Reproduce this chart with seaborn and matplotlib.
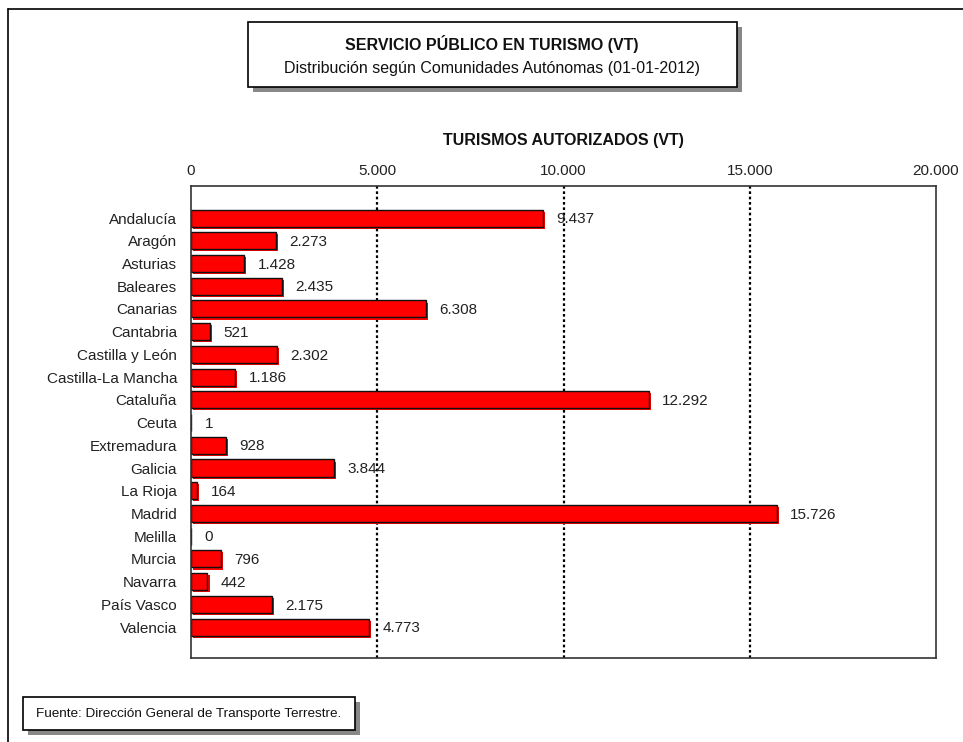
import matplotlib
matplotlib.use("Agg")
import matplotlib.pyplot as plt
import matplotlib.patheffects as pe
from matplotlib.patches import Rectangle
import seaborn as sns
import pandas as pd

regions = ["Andalucía", "Aragón", "Asturias", "Baleares", "Canarias", "Cantabria",
           "Castilla y León", "Castilla-La Mancha", "Cataluña", "Ceuta", "Extremadura",
           "Galicia", "La Rioja", "Madrid", "Melilla", "Murcia", "Navarra", "País Vasco",
           "Valencia"]
values = [9437, 2273, 1428, 2435, 6308, 521, 2302, 1186, 12292, 1, 928, 3844, 164,
          15726, 0, 796, 442, 2175, 4773]
xticks = [0, 5000, 10000, 15000, 20000]

def fmt(v):
    return f"{v:,}".replace(",", ".")

sns.set_theme(style="white")
plt.rcParams['font.family'] = ['Liberation Sans', 'DejaVu Sans']

W, H = 963, 742
fig = plt.figure(figsize=(W / 100, H / 100), dpi=100)

def fx(px):
    return px / W

def fy(py):
    return 1 - py / H

ax_l, ax_r, ax_t, ax_b = 191, 936, 186, 658
ax = fig.add_axes([fx(ax_l), fy(ax_b), (ax_r - ax_l) / W, (ax_b - ax_t) / H])

df = pd.DataFrame({"region": regions, "value": values})
sns.barplot(data=df, y="region", x="value", orient="h", color="#ff0000",
            saturation=1, edgecolor="#111111", linewidth=1.0, width=0.75, ax=ax)
for p in ax.patches:
    p.set_path_effects([pe.SimplePatchShadow(offset=(1.5, -1.5), shadow_rgbFace="#ff0000", alpha=1.0),
                        pe.Normal()])

ax.set_xlim(0, 20000)
ax.set_ylim(len(regions) - 1 + 1.36, -1.41)
ax.set_xticks(xticks)
ax.set_xticklabels([fmt(t) for t in xticks], fontsize=11)
ax.xaxis.tick_top()
ax.tick_params(axis="x", length=0, pad=6, colors="#222222")
ax.tick_params(axis="y", length=0, pad=10, labelsize=11, colors="#222222")
ax.set_ylabel("")
ax.set_xlabel("")
for t in xticks[1:-1]:
    ax.axvline(t, color="black", linestyle=(0, (1.2, 1.2)), linewidth=1.6, zorder=0)
for s in ax.spines.values():
    s.set_visible(True)
    s.set_color("#333333")
    s.set_linewidth(1.2)

for i, v in enumerate(values):
    ax.text(v + 360, i + 0.05, fmt(v), va="center", ha="left", fontsize=11, color="#222222")

fig.text(fx((ax_l + ax_r) / 2), fy(140), "TURISMOS AUTORIZADOS (VT)", ha="center", va="center",
         fontsize=11.5, fontweight="bold", color="#111111")

# outer border lines
fig.add_artist(plt.Line2D([fx(7.5), fx(963)], [fy(8.5), fy(8.5)], color="black", lw=1.2))
fig.add_artist(plt.Line2D([fx(7.5), fx(7.5)], [fy(8.5), fy(742)], color="black", lw=1.2))

def box(x0, y0, x1, y1):
    sh = Rectangle((fx(x0 + 5), fy(y1 + 5)), fx(x1 - x0), (y1 - y0) / H,
                   transform=fig.transFigure, facecolor="#888888", edgecolor="none")
    fig.add_artist(sh)
    r = Rectangle((fx(x0), fy(y1)), fx(x1 - x0), (y1 - y0) / H,
                  transform=fig.transFigure, facecolor="white", edgecolor="black", lw=1.2)
    fig.add_artist(r)

box(248, 22, 737, 87)
fig.text(fx(492), fy(44), "SERVICIO PÚBLICO EN TURISMO (VT)", ha="center", va="center",
         fontsize=11.5, fontweight="bold", color="#111111")
fig.text(fx(492), fy(68), "Distribución según Comunidades Autónomas (01-01-2012)", ha="center",
         va="center", fontsize=11.5, color="#111111")

box(23, 697, 355, 730)
fig.text(fx(36), fy(714), "Fuente: Dirección General de Transporte Terrestre.", ha="left",
         va="center", fontsize=9.7, color="#111111")

fig.savefig("out.png", dpi=100, facecolor="white")
